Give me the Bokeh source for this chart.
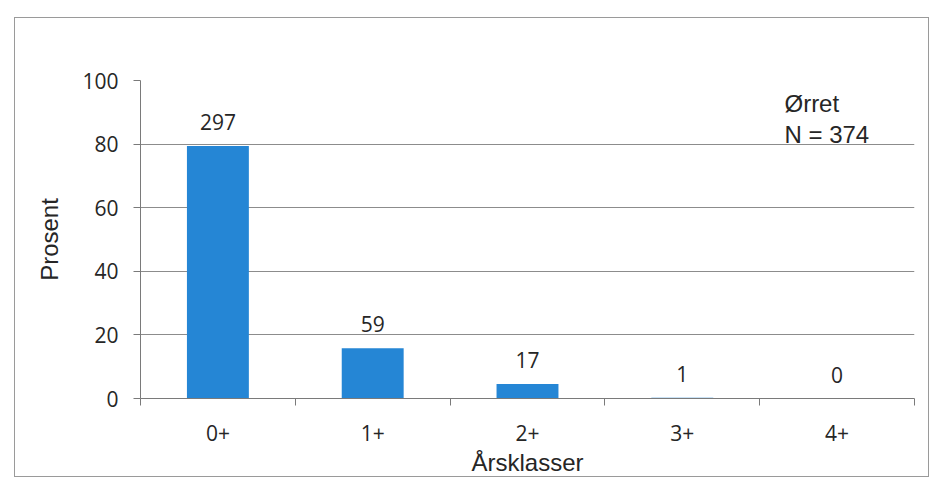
from bokeh.plotting import figure
from bokeh.models import FixedTicker, Range1d, ColumnDataSource
from bokeh.embed import file_html
from bokeh.resources import INLINE
from bokeh.core.properties import value

# Trout catch by age class
age_classes = ["0+", "1+", "2+", "3+", "4+"]
fish_counts = [297, 59, 17, 1, 0]
total_fish = 374
species = "Ørret"
y_ticks = [0, 20, 40, 60, 80, 100]

percent = [100.0 * c / total_fish for c in fish_counts]
xpos = [i + 0.5 for i in range(len(age_classes))]

NUM_FONT = "Open Sans"
TXT_FONT = "Liberation Sans"
TXT_COLOR = "#262626"
GRID_COLOR = "#8c8c8c"
AXIS_COLOR = "#7a7a7a"

# the chart sits inside a thin framed box
p = figure(width=915, height=460, output_backend="svg", toolbar_location=None,
           x_range=Range1d(0, len(age_classes)), y_range=Range1d(0, 100),
           min_border_left=125, min_border_right=16,
           min_border_top=62, min_border_bottom=67,
           styles={"margin-left": "14px", "margin-top": "17px",
                   "border": "1px solid #9a9a9a"})
p.outline_line_color = None
p.background_fill_color = "white"
p.border_fill_color = "white"

# horizontal gridlines
p.xgrid.visible = False
p.ygrid.ticker = FixedTicker(ticks=y_ticks[1:])
p.ygrid.grid_line_color = GRID_COLOR
p.ygrid.grid_line_width = 1

src = ColumnDataSource(dict(x=xpos, pct=percent,
                            lbl=[str(c) for c in fish_counts]))
p.vbar(x="x", top="pct", width=0.4, source=src,
       fill_color="#2586d5", line_color=None)
p.text(x="x", y="pct", text="lbl", source=src,
       text_align="center", text_baseline="alphabetic", y_offset=-24,
       text_font=value(NUM_FONT), text_font_size="21px", text_color=TXT_COLOR)

# species / sample size note
note = ColumnDataSource(dict(x=[4.16, 4.16], y=[92.7, 83.0],
                             t=[species, "N = %d" % total_fish]))
p.text(x="x", y="y", text="t", source=note, text_align="left",
       text_baseline="middle", text_font=value(TXT_FONT),
       text_font_size="24px", text_color=TXT_COLOR)

# x axis: labels at centres, ticks between classes
xa = p.xaxis[0]
xa.ticker = FixedTicker(ticks=xpos, minor_ticks=list(range(len(age_classes) + 1)))
xa.major_label_overrides = {x: a for x, a in zip(xpos, age_classes)}
xa.major_tick_line_color = None
xa.major_tick_out = 0
xa.major_tick_in = 0
xa.minor_tick_out = 7
xa.minor_tick_in = 0
xa.minor_tick_line_color = AXIS_COLOR
xa.axis_line_color = AXIS_COLOR
xa.major_label_standoff = 19
xa.major_label_text_font = NUM_FONT
xa.major_label_text_font_size = "21px"
xa.major_label_text_color = TXT_COLOR
xa.axis_label = "Årsklasser"
xa.axis_label_text_font = TXT_FONT
xa.axis_label_text_font_style = "normal"
xa.axis_label_text_font_size = "24px"
xa.axis_label_text_color = TXT_COLOR
xa.axis_label_standoff = 5

ya = p.yaxis[0]
ya.ticker = FixedTicker(ticks=y_ticks, minor_ticks=[])
ya.major_tick_out = 7
ya.major_tick_in = 0
ya.major_tick_line_color = AXIS_COLOR
ya.axis_line_color = AXIS_COLOR
ya.major_label_standoff = 15
ya.major_label_text_font = NUM_FONT
ya.major_label_text_font_size = "21px"
ya.major_label_text_color = TXT_COLOR
ya.axis_label = "Prosent"
ya.axis_label_text_font = TXT_FONT
ya.axis_label_text_font_style = "normal"
ya.axis_label_text_font_size = "24px"
ya.axis_label_text_color = TXT_COLOR
ya.axis_label_standoff = 16

open("out.html", "w").write(file_html(p, INLINE))
